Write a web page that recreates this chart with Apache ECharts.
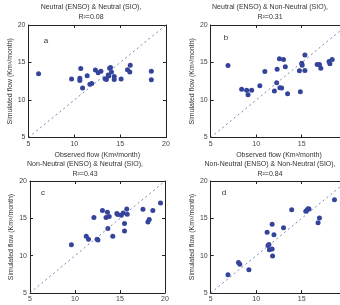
<!DOCTYPE html>
<html>
<head>
<meta charset="utf-8">
<script src="https://cdn.jsdelivr.net/npm/echarts@6/dist/echarts.min.js"></script>
<style>
  html, body { margin: 0; padding: 0; background: #fff; }
  #chart { width: 340px; height: 305px; }
</style>
</head>
<body>
<div id="chart"></div>
<script>
// observed vs simulated flow (Km3/month), one array per panel
const neutralNeutral = [
  [6.1, 13.5], [9.7, 12.8], [10.7, 14.2], [10.6, 12.9], [10.6, 12.6], [10.9, 11.6],
  [11.4, 13.25], [11.7, 12.1], [11.9, 12.2], [12.3, 14.0], [12.6, 13.65], [12.9, 13.85],
  [13.35, 12.85], [13.5, 12.75], [13.7, 13.35], [13.75, 13.2], [13.85, 14.25], [13.95, 14.35],
  [14.05, 13.75], [14.35, 13.15], [14.35, 12.75], [15.1, 12.8], [15.8, 14.05], [16.05, 13.75],
  [16.1, 14.65], [18.4, 13.85], [18.4, 12.7]
]
const neutralNonNeutral = [
  [6.9, 14.6], [8.4, 11.45], [8.95, 11.3], [9.1, 10.7], [9.5, 11.3], [10.4, 11.9],
  [10.95, 13.8], [12.0, 11.2], [12.25, 12.3], [12.3, 14.1], [12.55, 15.5], [12.6, 11.65],
  [12.8, 11.6], [13.0, 15.4], [13.2, 14.45], [13.45, 10.85], [14.75, 13.9], [14.85, 11.1],
  [15.0, 14.9], [15.05, 14.65], [15.35, 16.0], [15.35, 13.95], [16.7, 14.75], [16.95, 14.75],
  [17.1, 14.25], [18.0, 15.15], [18.1, 14.85], [18.35, 15.4]
]
const nonNeutralNeutral = [
  [9.6, 11.45], [11.25, 12.6], [11.5, 12.2], [12.1, 15.1], [12.45, 12.2], [12.55, 12.1],
  [13.05, 16.05], [13.45, 15.1], [13.6, 15.8], [13.65, 13.65], [13.8, 15.25], [14.2, 12.6],
  [14.65, 15.65], [14.75, 15.5], [15.15, 15.4], [15.35, 15.7], [15.5, 14.3], [15.5, 13.3],
  [15.75, 16.25], [15.8, 15.55], [17.55, 16.2], [18.1, 14.5], [18.25, 14.85], [18.65, 16.05],
  [19.5, 17.05]
]
const nonNeutralNonNeutral = [
  [6.9, 7.45], [8.05, 9.1], [8.2, 8.85], [9.2, 8.1], [11.2, 13.15], [11.3, 11.35],
  [11.4, 11.5], [11.45, 10.8], [11.75, 14.2], [11.75, 10.9], [11.8, 9.95], [11.95, 12.8],
  [13.0, 13.75], [13.9, 16.15], [15.45, 15.95], [15.6, 16.15], [15.7, 16.3], [15.8, 16.25],
  [16.8, 14.4], [16.95, 15.05], [18.6, 17.5]
]

const panelData = [neutralNeutral, neutralNonNeutral, nonNeutralNeutral, nonNeutralNonNeutral]
const panelTitles = [
  'Neutral (ENSO) & Neutral (SIO),',
  'Neutral (ENSO) & Non-Neutral (SIO),',
  'Non-Neutral (ENSO) & Neutral (SIO),',
  'Non-Neutral (ENSO) & Non-Neutral (SIO),'
]
const rSquared = ['0.08', '0.31', '0.43', '0.84']
const panelLetters = ['a', 'b', 'c', 'd']
const oneToOne = [[5, 5], [20, 20]]
const axisMin = 5
const axisMax = 20
const axisStep = 5

const xName = 'Observed flow (Km³/month)'
const yName = 'Simulated flow (Km³/month)'

// layout of the four boxes (px); right column runs past the picture edge
const grids = [
  { left: 28.5, top: 25, width: 137.5, height: 112.5 },
  { left: 210.7, top: 25, width: 136.5, height: 112.5 },
  { left: 30, top: 181, width: 135, height: 112 },
  { left: 210.7, top: 181, width: 136.5, height: 112 }
]
const titlePos = [
  { x: 91, y: 7 }, { x: 270, y: 7 },
  { x: 85, y: 164 }, { x: 270, y: 164 }
]
const letterPos = [
  { x: 46, y: 41 }, { x: 226, y: 38 },
  { x: 43, y: 193 }, { x: 224, y: 193 }
]

const font = 'Liberation Sans, Arial, sans-serif'
const lineColor = '#222'
const labelColor = '#444'
const pointColor = '#34449a'

const chartDom = document.getElementById('chart')
const myChart = echarts.init(chartDom)

const xAxes = []
const yAxes = []
const series = []
const graphics = []

grids.forEach((g, i) => {
	const common = {
		gridIndex: i,
		type: 'value',
		min: axisMin,
		max: axisMax,
		interval: axisStep,
		splitLine: { show: false },
		axisLine: { show: true, onZero: false, lineStyle: { color: lineColor, width: 1 } },
		axisTick: { show: true, inside: true, length: 3, lineStyle: { color: lineColor } }
	}
	xAxes.push({
		...common,
		position: 'bottom',
		name: xName,
		nameLocation: 'middle',
		nameGap: 14,
		nameTextStyle: { fontFamily: font, fontSize: 7, color: '#333' },
		axisLabel: { fontFamily: font, fontSize: 7, color: labelColor, margin: 3 }
	})
	xAxes.push({ ...common, position: 'top', axisLabel: { show: false } })
	yAxes.push({
		...common,
		position: 'left',
		name: yName,
		nameLocation: 'middle',
		nameGap: 15,
		nameTextStyle: { fontFamily: font, fontSize: 7, color: '#333' },
		axisLabel: { fontFamily: font, fontSize: 7, color: labelColor, margin: 3 }
	})
	yAxes.push({ ...common, position: 'right', axisLabel: { show: false } })

	series.push({
		type: 'line',
		xAxisIndex: 2 * i,
		yAxisIndex: 2 * i,
		data: oneToOne,
		symbol: 'none',
		silent: true,
		lineStyle: { color: '#5a64a8', width: 0.8, type: [2, 3] }
	})
	series.push({
		type: 'scatter',
		xAxisIndex: 2 * i,
		yAxisIndex: 2 * i,
		data: panelData[i],
		symbolSize: 5,
		itemStyle: { color: pointColor, opacity: 1 }
	})

	graphics.push({
		type: 'text',
		x: titlePos[i].x,
		y: titlePos[i].y,
		style: {
			text: panelTitles[i],
			font: '7px ' + font,
			fill: '#333',
			textAlign: 'center',
			textVerticalAlign: 'middle'
		}
	})
	graphics.push({
		type: 'text',
		x: titlePos[i].x,
		y: titlePos[i].y + 10,
		style: {
			text: 'R²=' + rSquared[i],
			font: '7px ' + font,
			fill: '#333',
			textAlign: 'center',
			textVerticalAlign: 'middle'
		}
	})
	graphics.push({
		type: 'text',
		x: letterPos[i].x,
		y: letterPos[i].y,
		style: {
			text: panelLetters[i],
			font: '8px ' + font,
			fill: '#333',
			textAlign: 'center',
			textVerticalAlign: 'middle'
		}
	})
})

const option = {
	animation: false,
	grid: grids.map(g => ({ ...g, containLabel: false, outerBoundsMode: 'none' })),
	xAxis: xAxes,
	yAxis: yAxes,
	series: series,
	graphic: graphics
}

myChart.setOption(option)
</script>
</body>
</html>
